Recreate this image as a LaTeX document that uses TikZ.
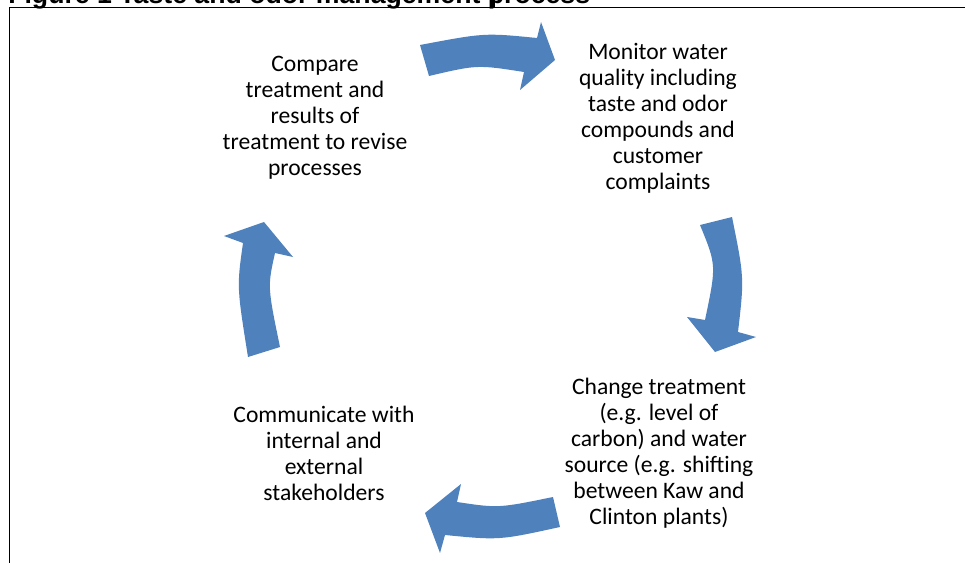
\documentclass[tikz,border=0pt]{standalone}
\usepackage{fontspec}
\setmainfont{Carlito}
\newfontfamily\titlefont{Liberation Sans}
\definecolor{cycblue}{HTML}{4F81BD}
\begin{document}
\begin{tikzpicture}[x=0.75pt,y=-0.75pt, line join=round,
	stage/.style={align=center, inner sep=0pt, font=\fontsize{17.7}{19.5}\selectfont},
	cyc/.style={fill=cycblue, draw=none}]
	\useasboundingbox (0,0) rectangle (965,563);
	\node[anchor=base west, inner sep=0pt, font=\titlefont\bfseries\fontsize{20}{24}\selectfont] (title) at (8,4) {Figure 1 Taste and odor management process};
	\draw[line width=1.2pt] (9,7.5)--(965,7.5) (9.6,7.5)--(9.6,563);
	\draw[line width=0.8pt] (494,0)--(494,7.5);
	% stages of the cycle
	\node[stage] (monitor) at (658,118) {Monitor water\\quality including\\taste and odor\\compounds and\\customer\\complaints};
	\node[stage] (change) at (659,453) {Change treatment\\(e.g. level of\\carbon) and water\\source (e.g. shifting\\between Kaw and\\Clinton plants)};
	\node[stage] (communicate) at (324,453) {Communicate with\\internal and\\external\\stakeholders};
	\node[stage] (compare) at (315,118) {Compare\\treatment and\\results of\\treatment to revise\\processes};
	% curved block arrows
	\fill[cyc] (420,45) .. controls (484.5,32.8) .. (537,38) -- (541,22) -- (555,60) -- (520,90) -- (524,72) .. controls (477.2,64.7) .. (429,76) -- cycle;
	\fill[cyc] (732,217) .. controls (744.3,277.8) .. (738,332) -- (756,337) -- (715,352) -- (687,317) -- (705,320) .. controls (716.5,265.2) .. (700,225) -- cycle;
	\fill[cyc] (560,527) .. controls (499.2,540.3) .. (445,535) -- (440,553) -- (425,513) -- (461,484) -- (457,502) .. controls (498.3,508.2) .. (553,497) -- cycle;
	\fill[cyc] (248,357) .. controls (236.8,286.7) .. (243,243) -- (224,236) -- (264,222) -- (293,257) -- (275,253) .. controls (267.5,286.7) .. (280,347) -- cycle;
\end{tikzpicture}
\end{document}
